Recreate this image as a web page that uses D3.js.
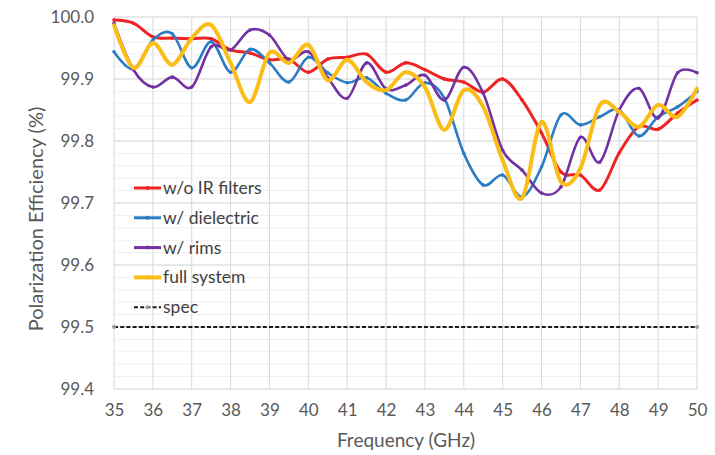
<!DOCTYPE html>
<html>
<head>
<meta charset="utf-8">
<script src="https://cdn.jsdelivr.net/npm/d3@7"></script>
<style>
  body { margin: 0; background: #fff; }
  text { font-family: Lato, "Open Sans", sans-serif; }
</style>
</head>
<body>
<svg id="chart"></svg>
<script>
const freq = d3.range(35, 50.01, 0.5);

const noFilters = [99.995, 99.99, 99.968, 99.966, 99.965, 99.965, 99.947, 99.942, 99.931, 99.932,
  99.911, 99.932, 99.935, 99.94, 99.911, 99.926, 99.915, 99.9, 99.895, 99.879,
  99.9, 99.866, 99.813, 99.75, 99.745, 99.721, 99.781, 99.823, 99.819, 99.845, 99.866];
const dielectric = [99.944, 99.916, 99.963, 99.973, 99.918, 99.96, 99.911, 99.948, 99.926, 99.895,
  99.935, 99.91, 99.894, 99.902, 99.877, 99.866, 99.894, 99.869, 99.78, 99.729,
  99.745, 99.71, 99.758, 99.842, 99.826, 99.839, 99.85, 99.808, 99.839, 99.855, 99.88];
const rims = [99.99, 99.915, 99.887, 99.903, 99.887, 99.952, 99.947, 99.979, 99.971, 99.931,
  99.944, 99.902, 99.869, 99.926, 99.884, 99.89, 99.906, 99.866, 99.919, 99.877,
  99.785, 99.753, 99.716, 99.726, 99.806, 99.766, 99.85, 99.885, 99.837, 99.91, 99.91];
const fullSystem = [99.987, 99.918, 99.958, 99.923, 99.966, 99.987, 99.926, 99.863, 99.942, 99.926,
  99.955, 99.898, 99.931, 99.895, 99.882, 99.911, 99.887, 99.818, 99.882, 99.855,
  99.769, 99.708, 99.831, 99.734, 99.756, 99.858, 99.847, 99.823, 99.858, 99.839, 99.885];
const specFreq = [35, 50];
const spec = [99.5, 99.5];

const xTicks = d3.range(35, 51, 1);
const yTicks = [99.4, 99.5, 99.6, 99.7, 99.8, 99.9, 100.0];

const series = [
  { name: "w/o IR filters", x: freq, y: noFilters, color: "#ee2424", width: 3 },
  { name: "w/ dielectric", x: freq, y: dielectric, color: "#2a7cc3", width: 2.6 },
  { name: "w/ rims", x: freq, y: rims, color: "#7232a2", width: 2.6 },
  { name: "full system", x: freq, y: fullSystem, color: "#fbbd18", width: 4 },
  { name: "spec", x: specFreq, y: spec, color: "#1a1a1a", width: 2, dash: "4,2.2" }
];

const width = 715, height = 455;
const svg = d3.select("#chart").attr("width", width).attr("height", height);

const x = d3.scaleLinear().domain([35, 50]).range([114, 697]);
const y = d3.scaleLinear().domain([99.4, 100.0]).range([389, 17]);

// minor grid
svg.append("g")
  .selectAll("line")
  .data(d3.range(99.4, 100.001, 0.02))
  .join("line")
  .attr("x1", x(35)).attr("x2", x(50))
  .attr("y1", d => y(d)).attr("y2", d => y(d))
  .attr("stroke", "#efefef").attr("stroke-width", 1);

// major grid
svg.append("g")
  .selectAll("line")
  .data(yTicks)
  .join("line")
  .attr("x1", x(35)).attr("x2", x(50))
  .attr("y1", d => y(d)).attr("y2", d => y(d))
  .attr("stroke", "#d9d9d9").attr("stroke-width", 1);

svg.append("g")
  .selectAll("line")
  .data(xTicks)
  .join("line")
  .attr("x1", d => x(d)).attr("x2", d => x(d))
  .attr("y1", y(99.4)).attr("y2", y(100))
  .attr("stroke", "#d9d9d9").attr("stroke-width", 1);

// axes labels
const xAxis = svg.append("g")
  .attr("transform", `translate(0,${y(99.4) + 12})`)
  .call(d3.axisBottom(x).tickValues(xTicks).tickFormat(d3.format("d")).tickSize(0));
xAxis.select(".domain").remove();
xAxis.selectAll("text").attr("font-size", 17).attr("fill", "#595959")
  .attr("font-family", "Lato, sans-serif");

const yAxis = svg.append("g")
  .attr("transform", `translate(${x(35) - 17},0)`)
  .call(d3.axisLeft(y).tickValues(yTicks).tickFormat(d3.format(".1f")).tickSize(0));
yAxis.select(".domain").remove();
yAxis.selectAll("text").attr("font-size", 17).attr("fill", "#595959")
  .attr("font-family", "Lato, sans-serif");

svg.append("text")
  .attr("x", 406).attr("y", 447)
  .attr("text-anchor", "middle")
  .attr("font-size", 19).attr("fill", "#595959")
  .text("Frequency (GHz)");

svg.append("text")
  .attr("transform", `translate(43,${(y(99.4) + y(100)) / 2 + 16}) rotate(-90)`)
  .attr("text-anchor", "middle")
  .attr("font-size", 20).attr("fill", "#595959")
  .text("Polarization Efficiency (%)");

// lines
series.forEach(s => {
  const pts = s.x.map((f, i) => [f, s.y[i]]);
  const line = d3.line()
    .x(d => x(d[0])).y(d => y(d[1]))
    .curve(s.dash ? d3.curveLinear : d3.curveCatmullRom.alpha(0));
  svg.append("path")
    .datum(pts)
    .attr("d", line)
    .attr("fill", "none")
    .attr("stroke", s.color)
    .attr("stroke-width", s.width)
    .attr("stroke-linejoin", "round")
    .attr("stroke-dasharray", s.dash || null);
  svg.append("g")
    .selectAll("circle")
    .data(pts)
    .join("circle")
    .attr("cx", d => x(d[0])).attr("cy", d => y(d[1]))
    .attr("r", s.dash ? 2 : 1.8)
    .attr("fill", s.dash ? "#9a9a9a" : s.color);
});

// legend
const legend = svg.append("g");
series.forEach((s, i) => {
  const ly = 188 + i * 29.8;
  legend.append("line")
    .attr("x1", 134).attr("x2", 161)
    .attr("y1", ly).attr("y2", ly)
    .attr("stroke", s.color)
    .attr("stroke-width", s.dash ? 2 : (s.width > 3 ? 4 : 3))
    .attr("stroke-dasharray", s.dash || null);
  legend.append("circle")
    .attr("cx", 147.5).attr("cy", ly).attr("r", 2)
    .attr("fill", s.dash ? "#9a9a9a" : s.color);
  legend.append("text")
    .attr("x", 163).attr("y", ly + 6)
    .attr("font-size", 17.5).attr("fill", "#404040")
    .text(s.name);
});
</script>
</body>
</html>
